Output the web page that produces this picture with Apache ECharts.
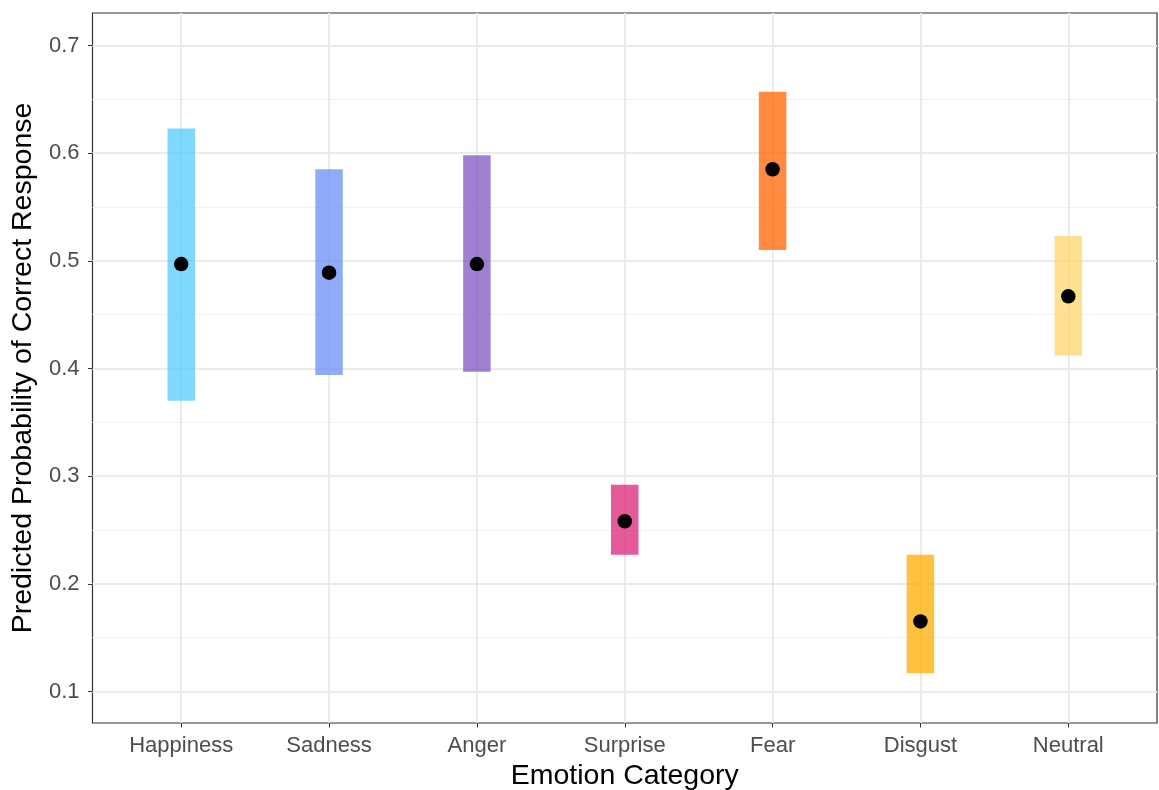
<!DOCTYPE html>
<html>
<head>
<meta charset="utf-8">
<script src="https://cdn.jsdelivr.net/npm/echarts@6/dist/echarts.min.js"></script>
<style>
  html, body { margin: 0; padding: 0; background: #ffffff; }
  #chart { width: 1159px; height: 790px; }
</style>
</head>
<body>
<div id="chart"></div>
<script>
// Emotion categories, in plotting order
const categories = ['Happiness', 'Sadness', 'Anger', 'Surprise', 'Fear', 'Disgust', 'Neutral'];
// Predicted probability of a correct response (point estimate)
const estimate = [0.497, 0.489, 0.497, 0.258, 0.585, 0.165, 0.467];
// Lower and upper bounds of the interval around each estimate
const lower = [0.370, 0.394, 0.397, 0.227, 0.510, 0.117, 0.412];
const upper = [0.623, 0.585, 0.598, 0.292, 0.657, 0.227, 0.523];
// Fill colour per category
const colors = [
  'rgba(84,204,254,0.75)',
  'rgba(105,143,248,0.75)',
  'rgba(128,86,192,0.75)',
  'rgba(219,35,122,0.75)',
  'rgba(255,99,0,0.75)',
  'rgba(255,172,0,0.75)',
  'rgba(252,214,109,0.75)'
];
// Axis breaks
const yMajor = [0.1, 0.2, 0.3, 0.4, 0.5, 0.6, 0.7];
const yMinor = [0.15, 0.25, 0.35, 0.45, 0.55, 0.65];
const xPositions = categories.map((_, i) => i + 1);

const font = 'Liberation Sans, Arial, sans-serif';

const rangeData = categories.map((c, i) => [i + 1, lower[i], upper[i]]);
const pointData = categories.map((c, i) => [i + 1, estimate[i]]);

const chart = echarts.init(document.getElementById('chart'), null, { renderer: 'canvas' });

chart.setOption({
  animation: false,
  backgroundColor: '#ffffff',
  grid: {
    left: 92.5, right: 2, top: 13, bottom: 67,
    show: true, borderColor: '#333333', borderWidth: 1.2, backgroundColor: 'transparent',
    containLabel: false,
    outerBoundsMode: 'none'
  },
  xAxis: {
    type: 'value',
    min: 0.4, max: 7.6,
    name: 'Emotion Category',
    nameLocation: 'middle',
    nameGap: 38,
    nameTextStyle: { fontFamily: font, fontSize: 28.5, color: '#000000' },
    axisLine: { show: false },
    axisTick: { show: true, length: 4.5, customValues: xPositions, lineStyle: { color: '#333333', width: 1 } },
    axisLabel: {
      customValues: xPositions,
      formatter: v => categories[Math.round(v) - 1] || '',
      fontFamily: font, fontSize: 22, color: '#4d4d4d', margin: 12
    },
    splitLine: { show: true, lineStyle: { color: '#ebebeb', width: 2 } }
  },
  yAxis: [
    {
      type: 'value',
      min: 0.0707, max: 0.7302,
      name: 'Predicted Probability of Correct Response',
      nameLocation: 'middle',
      nameGap: 53,
      nameTextStyle: { fontFamily: font, fontSize: 28.5, color: '#000000' },
      axisLine: { show: false },
      axisTick: { show: true, length: 4.5, customValues: yMajor, lineStyle: { color: '#333333', width: 1 } },
      axisLabel: {
        customValues: yMajor,
        formatter: v => v.toFixed(1),
        fontFamily: font, fontSize: 22, color: '#4d4d4d', margin: 13
      },
      splitLine: { show: true, lineStyle: { color: '#ebebeb', width: 2 } }
    },
    {
      // minor horizontal grid lines
      type: 'value',
      min: 0.0707, max: 0.7302,
      position: 'left',
      axisLine: { show: false },
      axisTick: { show: false, customValues: yMinor },
      axisLabel: { show: false, customValues: yMinor },
      splitLine: { show: true, lineStyle: { color: '#f2f2f2', width: 1 } }
    }
  ],
  series: [
    {
      type: 'custom',
      name: 'interval',
      xAxisIndex: 0,
      yAxisIndex: 0,
      data: rangeData,
      encode: { x: 0, y: [1, 2] },
      z: 3,
      renderItem: function (params, api) {
        const idx = params.dataIndex;
        const lo = api.coord([api.value(0), api.value(1)]);
        const hi = api.coord([api.value(0), api.value(2)]);
        const w = 27.5;
        return {
          type: 'rect',
          shape: { x: lo[0] - w / 2, y: hi[1], width: w, height: lo[1] - hi[1] },
          style: { fill: colors[idx] }
        };
      }
    },
    {
      type: 'scatter',
      name: 'estimate',
      xAxisIndex: 0,
      yAxisIndex: 0,
      data: pointData,
      symbol: 'circle',
      symbolSize: 14.5,
      itemStyle: { color: '#000000', opacity: 1 },
      z: 5
    }
  ]
});
</script>
</body>
</html>
